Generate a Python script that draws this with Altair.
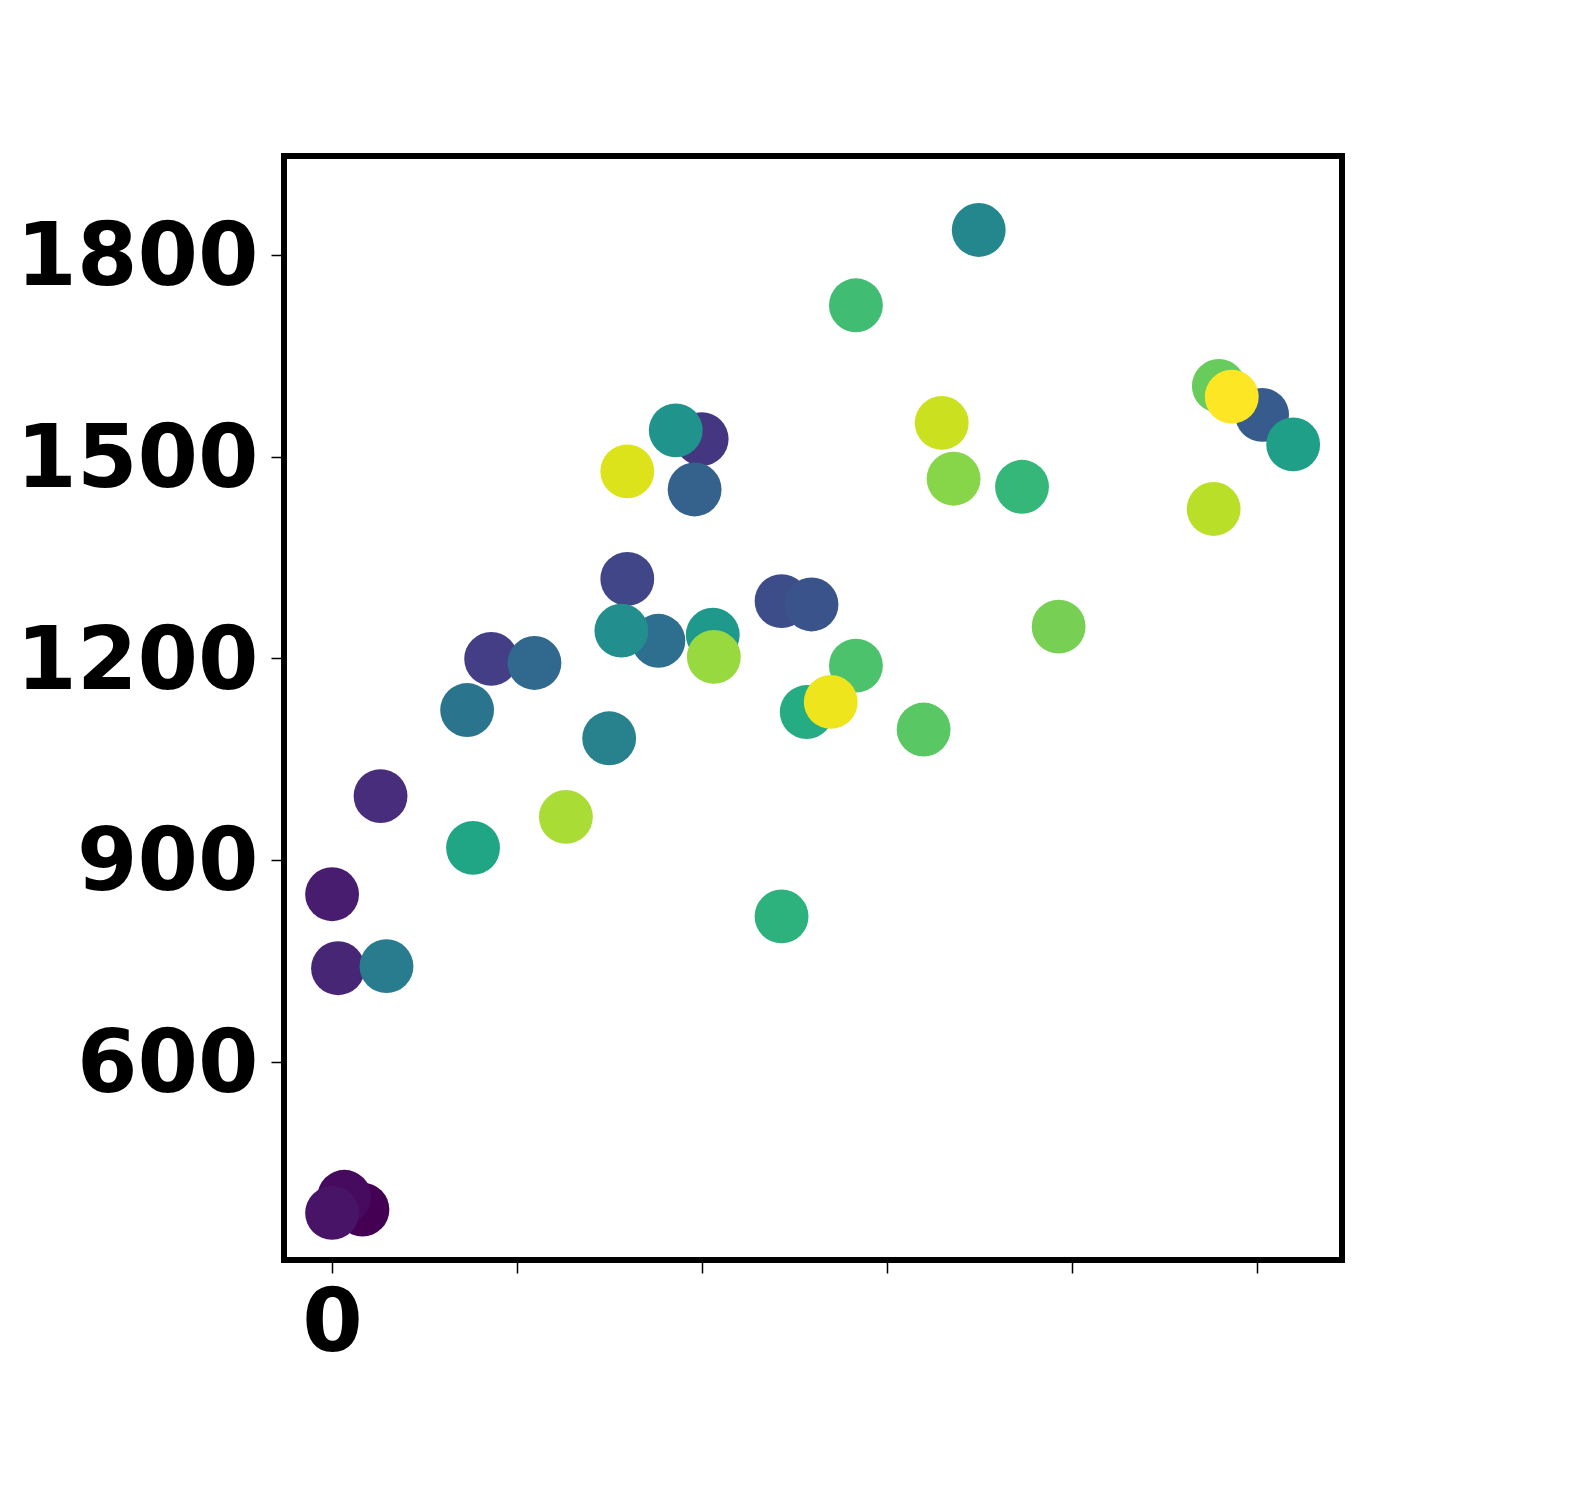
import altair as alt
import pandas as pd

# points listed in drawing order (colour rank ascending)
x_vals = [0.82, 0.33, 0.0, 0.0, 0.16, 1.31, 9.99, 4.30, 7.98, 12.15,
          12.96, 25.14, 9.80, 5.47, 8.82, 3.65, 1.47, 7.49, 17.48, 7.82,
          9.29, 10.29, 25.98, 3.81, 12.83, 12.15, 18.65, 14.16, 14.16, 15.99,
          23.97, 19.64, 16.80, 10.32, 6.32, 23.83, 16.48, 7.98, 13.48, 24.32]
y_vals = [380, 399, 375, 849, 739, 995, 1526, 1199, 1318, 1285,
          1280, 1562, 1451, 1193, 1226, 1123, 742, 1081, 1837, 1241,
          1539, 1235, 1518, 918, 1120, 816, 1455, 1725, 1189, 1094,
          1605, 1247, 1467, 1202, 964, 1422, 1550, 1478, 1135, 1589]
c_vals = [0, 1, 2, 3, 4, 5, 6, 7, 8, 9,
          10, 11, 12, 13, 14, 15, 16, 17, 18, 19,
          20, 21, 22, 23, 24, 25, 26, 27, 28, 29,
          30, 31, 32, 33, 34, 35, 36, 37, 38, 39]

x_ticks = [0, 5, 10, 15, 20, 25]
y_ticks = [600, 900, 1200, 1500, 1800]

df = pd.DataFrame({"x": x_vals, "y": y_vals, "c": c_vals})

FONT = "DejaVu Sans"

chart = alt.Chart(df).mark_circle(size=2900, opacity=1).encode(
    x=alt.X("x:Q",
            scale=alt.Scale(domain=[-1.3, 27.3], nice=False, zero=False),
            axis=alt.Axis(values=x_ticks, title=None,
                          labelExpr="datum.value == 0 ? '0' : ''",
                          labelPadding=8, labelFlush=False)),
    y=alt.Y("y:Q",
            scale=alt.Scale(domain=[305, 1947], nice=False, zero=False),
            axis=alt.Axis(values=y_ticks, title=None, labelPadding=13,
                          labelOffset=4, format="d")),
    color=alt.Color("c:Q", scale=alt.Scale(scheme="viridis", domain=[0, 39]), legend=None),
    order=alt.Order("c:Q"),
).properties(
    width=1058,
    height=1104,
    autosize=alt.AutoSizeParams(type="none"),
    padding={"left": 276, "top": 148, "right": 229, "bottom": 230},
).configure_view(
    stroke="black", strokeWidth=6, fill="white"
).configure_axis(
    domain=False, grid=False,
    ticks=True, tickColor="black", tickWidth=1.5, tickSize=13,
    labelFont=FONT, labelFontWeight="bold", labelFontSize=87, labelColor="black",
    labelLimit=0,
)

chart.save("out.html", embed_options={"renderer": "svg", "actions": False})
